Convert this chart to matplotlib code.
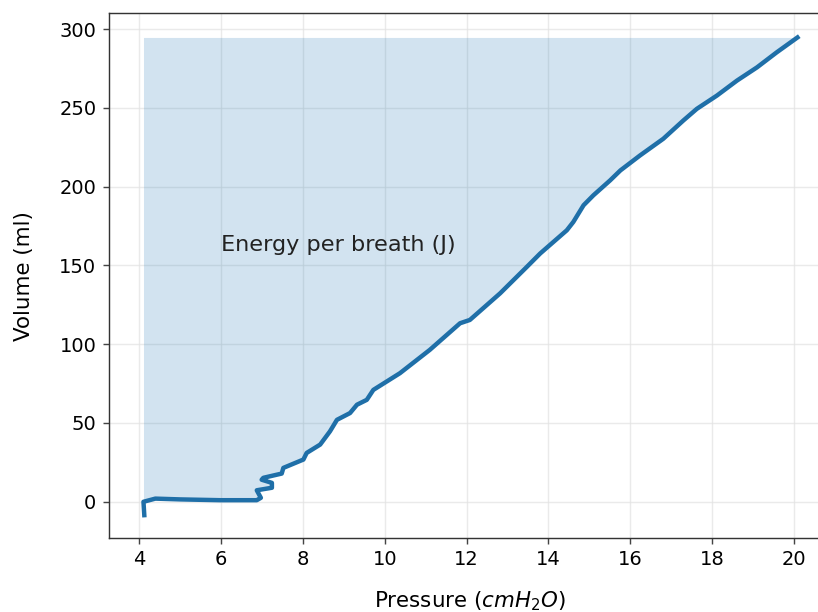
import matplotlib
matplotlib.use('Agg')
import matplotlib.pyplot as plt

# pressure-volume loop (inspiration limb)
pressure = [4.12, 4.10, 4.39, 5.0, 5.98, 6.87, 6.97, 6.87, 7.24, 7.24, 6.99, 7.03,
            7.48, 7.52, 8.01, 8.09, 8.42, 8.66, 8.83, 9.15, 9.32, 9.56, 9.72, 10.37,
            11.1, 11.84, 12.08, 12.82, 13.47, 13.8, 14.45, 14.61, 14.86, 15.1, 15.51,
            15.76, 16.24, 16.81, 17.3, 17.63, 18.12, 18.61, 19.1, 19.58, 20.09]
volume = [-8.5, 0, 2, 1.5, 1, 1, 2.5, 7.3, 8.9, 12, 14, 15.2,
          17.9, 21.5, 26.8, 31, 36.3, 44.7, 52, 56.3, 61.6, 64.7, 71, 81.6,
          96.4, 113.3, 115.4, 132.3, 149, 157.6, 172.3, 177.6, 188.2, 194.5, 204,
          210.3, 219.8, 230.4, 242, 249.4, 257.8, 267.3, 275.7, 285.2, 294.7]

xticks = [4, 6, 8, 10, 12, 14, 16, 18, 20]
yticks = [0, 50, 100, 150, 200, 250, 300]

fig = plt.figure(figsize=(818 / 128, 612 / 128), dpi=128)
ax = fig.add_axes([0.1329, 0.1209, 0.8825, 0.8573])

ax.fill_betweenx(volume, min(pressure), pressure, color='#1f77b4', alpha=0.2, lw=0)
ax.plot(pressure, volume, color='#1f6fa8', lw=2.5)
ax.text(6, 163, 'Energy per breath (J)', fontsize=12.6, va='center', ha='left', color='#222222')

ax.set_xlim(3.25, 20.9)
ax.set_ylim(-23, 310)
ax.set_xticks(xticks)
ax.set_yticks(yticks)
ax.tick_params(labelsize=11, color='#444444')
ax.grid(True, color='#e2e2e2', lw=0.8, alpha=0.7)
ax.set_axisbelow(True)
for s in ax.spines.values():
    s.set_color('#333333')

ax.set_xlabel('Pressure ($cmH_2O$)', fontsize=12, labelpad=11)
ax.set_ylabel('Volume (ml)', fontsize=12, labelpad=14)

fig.savefig('out.png', dpi=128)
